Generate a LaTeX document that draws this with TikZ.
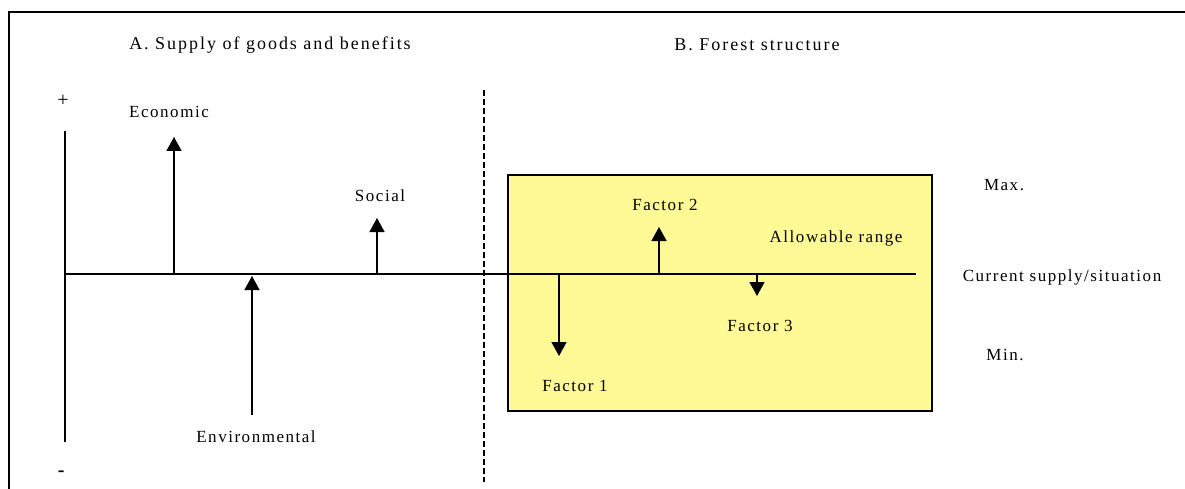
\documentclass[tikz,border=0pt]{standalone}
\usepackage{fontspec}
\setmainfont{Liberation Serif}[LetterSpace=9]
\newfontfamily\titlefont{Liberation Serif}[LetterSpace=11]
\usetikzlibrary{arrows.meta}
\definecolor{boxyellow}{RGB}{255,250,150}
\tikzset{
  lbl/.style={font=\fontsize{17}{20}\selectfont, inner sep=0pt},
  sgn/.style={font=\fontsize{20}{24}\selectfont, inner sep=0pt},
  ttl/.style={font=\titlefont\fontsize{18}{21}\selectfont, inner sep=0pt},
  axis/.style={line width=1.6pt},
  arr/.style={line width=1.5pt, -{Triangle[width=15pt,length=14pt]}},
}
\begin{document}
\begin{tikzpicture}[x=1pt,y=-1pt]
\useasboundingbox (0,0) rectangle (1185,489);
% frame
\draw[line width=2.2pt] (9,489) -- (9,12) -- (1185,12);
% titles
\node[ttl] (tA) at (270,45) {A. Supply of goods and benefits};
\node[ttl] (tB) at (757,45) {B. Forest structure};
% plus/minus
\node[sgn] (plus) at (63,101) {+};
\node[sgn] (minus) at (62,474) {\textbf{-}};
% box
\node[draw, line width=1.6pt, fill=boxyellow, minimum width=424pt, minimum height=236pt, inner sep=0pt, anchor=north west] (box) at (507,174) {};
% dashed separator
\coordinate (dtop) at (484,90);
\coordinate (dbot) at (484,482);
\draw[line width=2pt, dash pattern=on 6pt off 3pt] (dtop) -- (dbot);
% axes
\coordinate (vtop) at (65,131);
\coordinate (vbot) at (65,442);
\draw[axis] (vtop) -- (vbot);
\coordinate (hl) at (65,274);
\coordinate (hr) at (916,274);
\draw[axis] (hl) -- (hr);
% Economic
\coordinate (ecoB) at (174,274);
\coordinate (ecoT) at (174,137);
\draw[arr] (ecoB) -- (ecoT);
\node[lbl] (eco) at (169,112) {Economic};
% Environmental
\coordinate (envB) at (252,415);
\coordinate (envT) at (252,276);
\draw[arr] (envB) -- (envT);
\node[lbl] (env) at (256,437) {Environmental};
% Social
\coordinate (socB) at (377,274);
\coordinate (socT) at (377,218);
\draw[arr] (socB) -- (socT);
\node[lbl] (soc) at (380,196) {Social};
% Factors
\coordinate (f2B) at (659,274);
\coordinate (f2T) at (659,227);
\draw[arr] (f2B) -- (f2T);
\node[lbl] (f2) at (665,205) {Factor 2};
\coordinate (f3B) at (757,274);
\coordinate (f3T) at (757,296);
\draw[arr] (f3B) -- (f3T);
\node[lbl] (f3) at (760,326) {Factor 3};
\coordinate (f1B) at (559,274);
\coordinate (f1T) at (559,356);
\draw[arr] (f1B) -- (f1T);
\node[lbl] (f1) at (575,386) {Factor 1};
\node[lbl] (ar) at (836,238) {Allowable range};
% right labels
\node[lbl] (max) at (1004,185) {Max.};
\node[lbl] (cur) at (1062,277) {Current supply/situation};
\node[lbl] (min) at (1005,355) {Min.};
\end{tikzpicture}
\end{document}
